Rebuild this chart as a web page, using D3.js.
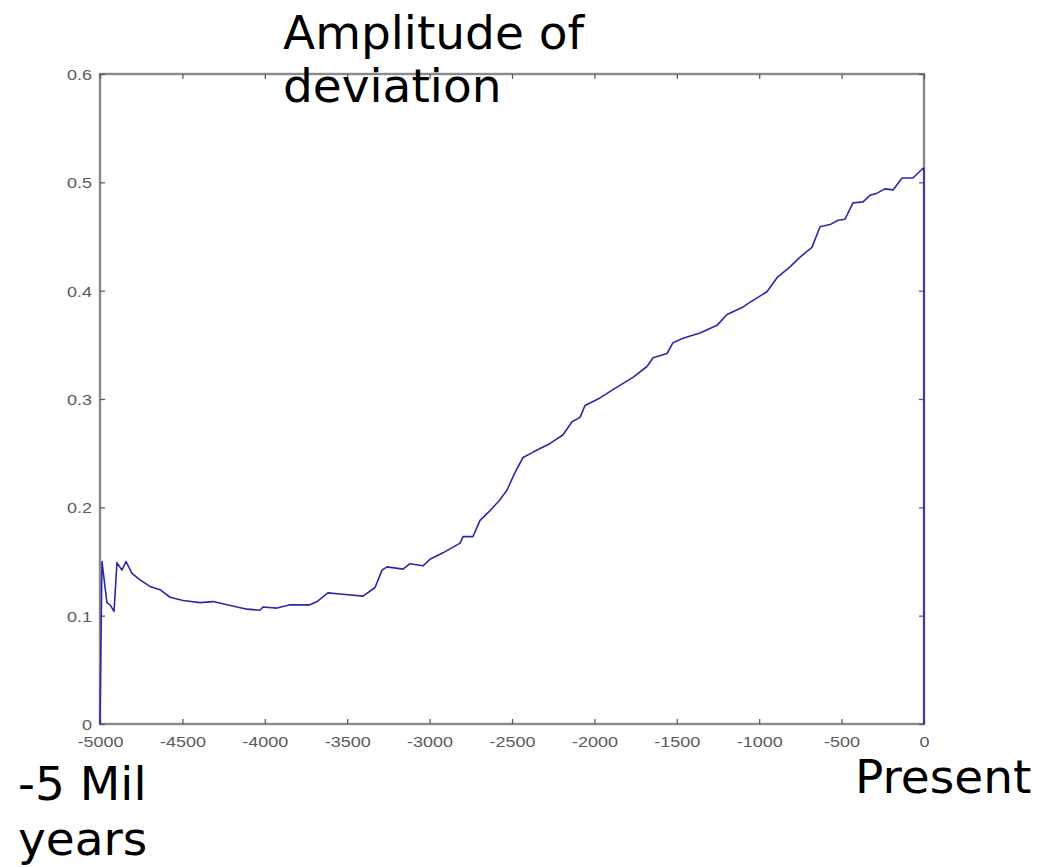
<!DOCTYPE html>
<html>
<head>
<meta charset="utf-8">
<script src="https://cdn.jsdelivr.net/npm/d3@7"></script>
<style>
  html, body { margin: 0; padding: 0; background: #ffffff; }
  svg { display: block; }
</style>
</head>
<body>
<svg id="chart" width="1058" height="867"></svg>
<script>
// ---- data ----
const years = [
  -5000, -4988, -4958, -4939, -4915, -4897, -4867, -4842, -4806, -4757,
  -4697, -4636, -4575, -4496, -4393, -4314, -4229, -4108, -4029, -4011,
  -3926, -3847, -3726, -3683, -3617, -3544, -3404, -3331, -3289, -3258,
  -3161, -3119, -3040, -2998, -2919, -2815, -2797, -2737, -2694, -2633,
  -2573, -2530, -2482, -2433, -2372, -2269, -2190, -2136, -2087, -2057,
  -1966, -1863, -1766, -1681, -1644, -1559, -1523, -1462, -1359, -1256,
  -1195, -1098, -1038, -953, -892, -813, -752, -680, -631, -570,
  -522, -479, -431, -370, -328, -285, -237, -188, -133, -67,
  -6, 0, 0
];
const amplitude = [
  0.000, 0.150, 0.112, 0.110, 0.104, 0.149, 0.142, 0.150, 0.139, 0.133,
  0.127, 0.124, 0.117, 0.114, 0.112, 0.113, 0.110, 0.106, 0.105, 0.108,
  0.107, 0.110, 0.110, 0.113, 0.121, 0.120, 0.118, 0.126, 0.142, 0.145,
  0.143, 0.148, 0.146, 0.152, 0.158, 0.167, 0.173, 0.173, 0.188, 0.197,
  0.207, 0.216, 0.232, 0.246, 0.251, 0.259, 0.267, 0.279, 0.283, 0.294,
  0.301, 0.311, 0.320, 0.330, 0.338, 0.342, 0.352, 0.356, 0.361, 0.368,
  0.378, 0.385, 0.391, 0.399, 0.412, 0.422, 0.431, 0.440, 0.459, 0.461,
  0.465, 0.466, 0.481, 0.482, 0.488, 0.490, 0.494, 0.493, 0.504, 0.504,
  0.513, 0.513, 0.000
];
const xTicks = [-5000, -4500, -4000, -3500, -3000, -2500, -2000, -1500, -1000, -500, 0];
const xTickLabels = ["-5000", "-4500", "-4000", "-3500", "-3000", "-2500", "-2000", "-1500", "-1000", "-500", "0"];
const yTicks = [0, 0.1, 0.2, 0.3, 0.4, 0.5, 0.6];
const yTickLabels = ["0", "0.1", "0.2", "0.3", "0.4", "0.5", "0.6"];
const titleLines = ["Amplitude of", "deviation"];
const leftNoteLines = ["-5 Mil", "years"];
const rightNote = "Present";

// ---- layout ----
const svg = d3.select("#chart");
const plot = { left: 100, right: 924, top: 74, bottom: 724 };

const x = d3.scaleLinear().domain([-5000, 0]).range([plot.left, plot.right]);
const y = d3.scaleLinear().domain([0, 0.6]).range([plot.bottom, plot.top]);

const frameColor = "#8a8a8a";
const tickColor = "#555555";
const labelColor = "#5a5a5a";

// frame box
svg.append("rect")
  .attr("x", plot.left).attr("y", plot.top)
  .attr("width", plot.right - plot.left).attr("height", plot.bottom - plot.top)
  .attr("fill", "none").attr("stroke", frameColor).attr("stroke-width", 2.4);

// axes (ticks inward on all four sides)
const xLabelMap = new Map(xTicks.map((t, i) => [t, xTickLabels[i]]));
const yLabelMap = new Map(yTicks.map((t, i) => [t, yTickLabels[i]]));

function styleAxis(g) {
  g.select(".domain").remove();
  g.selectAll(".tick line").attr("stroke", tickColor).attr("stroke-width", 1.2);
}

const xBottom = svg.append("g")
  .attr("transform", `translate(0,${plot.bottom})`)
  .call(d3.axisBottom(x).tickValues(xTicks).tickSize(-5).tickPadding(0)
        .tickFormat(d => xLabelMap.get(d)));
styleAxis(xBottom);
xBottom.selectAll(".tick text")
  .attr("y", null).attr("dy", null)
  .attr("transform", "translate(0,23) scale(1.2,1)")
  .attr("fill", labelColor)
  .style("font-family", "'Liberation Sans', Arial, sans-serif")
  .style("font-size", "15px");

const xTop = svg.append("g")
  .attr("transform", `translate(0,${plot.top})`)
  .call(d3.axisTop(x).tickValues(xTicks).tickSize(-5).tickFormat(""));
styleAxis(xTop);

const yLeft = svg.append("g")
  .attr("transform", `translate(${plot.left},0)`)
  .call(d3.axisLeft(y).tickValues(yTicks).tickSize(-5).tickPadding(0)
        .tickFormat(d => yLabelMap.get(d)));
styleAxis(yLeft);
yLeft.selectAll(".tick text")
  .attr("x", null).attr("dy", "0.36em")
  .attr("transform", "translate(-8,0) scale(1.2,1)")
  .attr("text-anchor", "end")
  .attr("fill", labelColor)
  .style("font-family", "'Liberation Sans', Arial, sans-serif")
  .style("font-size", "15px");

const yRight = svg.append("g")
  .attr("transform", `translate(${plot.right},0)`)
  .call(d3.axisRight(y).tickValues(yTicks).tickSize(-5).tickFormat(""));
styleAxis(yRight);

// data line
const data = years.map((yr, i) => ({ yr, v: amplitude[i] }));
const line = d3.line().x(d => x(d.yr)).y(d => y(d.v));
svg.append("path")
  .datum(data)
  .attr("d", line)
  .attr("fill", "none")
  .attr("stroke", "#2a2aa8")
  .attr("stroke-width", 1.6)
  .attr("stroke-linejoin", "round");

// annotations
const annFont = "'DejaVu Sans', Verdana, sans-serif";
const title = svg.append("text")
  .attr("x", 283).attr("y", 49)
  .style("font-family", annFont).style("font-size", "47px").attr("fill", "#000");
title.selectAll("tspan").data(titleLines).join("tspan")
  .attr("x", 283).attr("y", (d, i) => 49 + i * 53).text(d => d);

const leftNote = svg.append("text")
  .style("font-family", annFont).style("font-size", "47px").attr("fill", "#000");
leftNote.selectAll("tspan").data(leftNoteLines).join("tspan")
  .attr("x", 18).attr("y", (d, i) => 800 + i * 55).text(d => d);

svg.append("text")
  .attr("x", 855).attr("y", 793)
  .style("font-family", annFont).style("font-size", "47px").attr("fill", "#000")
  .text(rightNote);
</script>
</body>
</html>
